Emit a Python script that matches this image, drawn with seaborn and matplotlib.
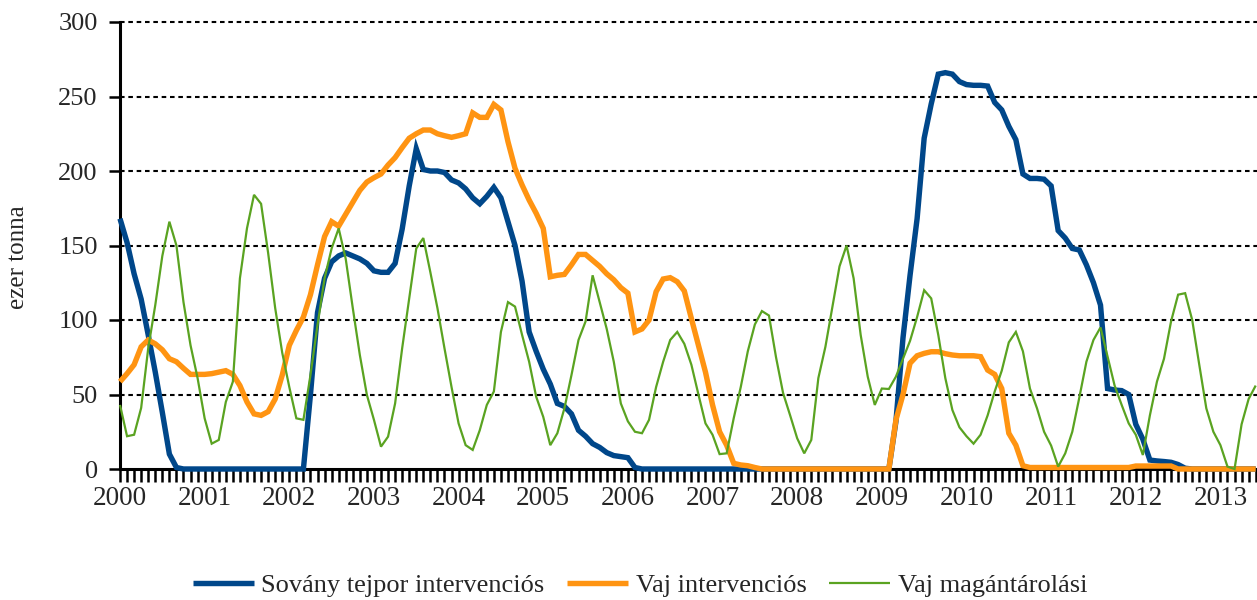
import numpy as np
import pandas as pd
import matplotlib
matplotlib.use("Agg")
import matplotlib.pyplot as plt
import seaborn as sns
from matplotlib.ticker import FixedLocator, MultipleLocator

# ---- data (monthly, Jan 2000 onwards, thousand tonnes) ----
years = list(range(2000, 2014))
series_names = ["Sovány tejpor intervenciós", "Vaj intervenciós", "Vaj magántárolási"]

skim_milk_intervention = (
    [168, 152, 131, 114, 90, 65, 38, 10, 1]
    + [0] * 18
    + [50, 105, 128, 139, 143, 145, 143, 141, 138, 133, 132, 132, 138, 161, 190, 215,
       201, 200, 200, 199, 194, 192, 188, 182, 178, 183, 189, 182, 166, 150, 126, 92,
       79, 67, 57, 44, 42, 37, 26, 22, 17, 14.5, 11, 9, 8.3, 7.6, 1]
    + [0] * 36
    + [32, 88, 130, 168, 222, 245, 265, 266, 265, 260, 258, 257.5, 257.5, 257, 246, 241,
       230, 221, 198, 195, 195, 194.5, 190, 160, 155, 148, 147, 137, 125, 110, 54, 53,
       52.6, 50, 30, 20, 6, 5.4, 5, 4.5, 3, 0.5]
    + [0] * 10
)

butter_intervention = (
    [58.6, 64, 70, 82, 86.6, 84, 80, 74, 72, 67.6, 63.5, 63.5, 63.5, 64, 65, 66, 63.5, 56,
     45, 37, 36, 38.5, 47, 63, 83, 93, 102, 117, 137, 156, 166, 163, 171, 179, 187, 192.6,
     195.5, 198, 204, 209, 215.7, 222, 225, 227.5, 227.5, 225, 223.7, 222.6, 223.7, 225,
     239, 236, 236, 244.7, 241, 219.7, 201.8, 190.6, 180.5, 171.6, 161.5, 129, 130, 130.6,
     137, 144, 144, 140, 136, 131, 127, 121.7, 118, 92, 94, 100, 119, 127.5, 128.4, 125.7,
     119.5, 101, 83, 65, 43, 25, 16, 3.8, 2.7, 2.2, 1]
    + [0] * 19
    + [33, 50, 71, 76, 77.6, 78.7, 78.7, 77.4, 76.5, 76, 76, 76, 75.4, 66.4, 63.5, 54, 24,
       16, 2.2]
    + [1] * 15
    + [2] * 6
    + [0] * 12
)

butter_private_storage = [
    43, 22, 23, 41, 81, 110, 143, 166, 150, 112, 83, 61, 34, 17, 19.5, 45, 58.6, 128,
    161.5, 184, 178, 145, 108, 78, 55, 34, 33, 63, 96.6, 128, 148, 161.5, 141, 108, 76.5,
    49.7, 33, 15, 21.7, 44, 81, 114.5, 148, 155, 132, 108, 81, 55, 30.6, 16, 12.8, 26, 43,
    52, 92, 112, 109, 90, 72, 48.5, 35, 16, 24, 40.7, 63, 86.6, 99, 130, 112, 94, 72, 44,
    32, 25, 24, 33, 55, 72, 86.6, 92, 84, 70, 50, 30.6, 23, 10, 10.5, 34, 55, 79, 97, 106,
    103, 75, 51, 36, 20.6, 10.5, 19.5, 61, 82, 109, 136, 150, 128, 90, 62, 43, 54, 53.7,
    62, 74, 86, 102, 120, 114.5, 90, 61, 39.6, 28, 22, 17, 23, 36, 52, 66, 85, 92, 79, 54,
    40.7, 25, 15.7, 1.6, 10.5, 25, 48, 72, 86.6, 95, 75.4, 56, 43, 30.6, 23, 9.4, 36, 58.6,
    74, 99, 117, 118, 100, 70, 40.7, 25, 16, 1.6, 0, 30, 47, 56,
]

y_ticks = [0, 50, 100, 150, 200, 250, 300]
y_label = "ezer tonna"

n = len(butter_private_storage)
assert len(skim_milk_intervention) == n and len(butter_intervention) == n
month = np.arange(n)

df = pd.DataFrame({
    "month": np.tile(month, 3),
    "value": skim_milk_intervention + butter_intervention + butter_private_storage,
    "series": np.repeat(series_names, n),
})

colors = {series_names[0]: "#00478A", series_names[1]: "#FF9412", series_names[2]: "#5AA321"}
widths = {series_names[0]: 3.9, series_names[1]: 3.9, series_names[2]: 1.6}

# ---- style ----
sns.set_style("white")
plt.rcParams["font.family"] = ["Liberation Serif", "DejaVu Serif"]
plt.rcParams["font.size"] = 19

W, H = 1257, 600
fig = plt.figure(figsize=(W / 100, H / 100), dpi=100)
ax = fig.add_axes([120 / W, (H - 469) / H, 1 - 120 / W, 447 / H])

for name in series_names:
    sub = df[df["series"] == name]
    sns.lineplot(data=sub, x="month", y="value", ax=ax, color=colors[name],
                 linewidth=widths[name], label=name, solid_joinstyle="miter",
                 solid_capstyle="butt", zorder=5, clip_on=False)

ax.set_xlim(0, (W - 120) / 7.054)
ax.set_ylim(0, 300)

# grid
for yv in y_ticks[1:]:
    ax.axhline(yv, color="black", linewidth=1.5, linestyle=(0, (2.2, 1.8)), zorder=1,
               clip_on=False)

ax.set_yticks(y_ticks)
ax.set_yticklabels([str(v) for v in y_ticks])
ax.xaxis.set_major_locator(FixedLocator([12 * (y - 2000) for y in years]))
ax.set_xticklabels([str(y) for y in years])
ax.xaxis.set_minor_locator(MultipleLocator(1))

ax.tick_params(axis="y", which="major", direction="out", length=8, width=1.8,
               color="black", pad=8, labelsize=19, left=True)
ax.tick_params(axis="x", which="both", direction="out", length=9, width=1.8,
               color="black", pad=3, labelsize=19.5, bottom=True)

for side in ["top", "right"]:
    ax.spines[side].set_visible(False)
for side in ["left", "bottom"]:
    ax.spines[side].set_color("black")
    ax.spines[side].set_linewidth(2.2)
    ax.spines[side].set_zorder(4)

ax.set_xlabel("")
ax.set_ylabel("")
fig.text(18 / W, 1 - 257 / H, y_label, rotation=90, ha="center", va="center", fontsize=18)

handles, labels = ax.get_legend_handles_labels()
if ax.legend_:
    ax.legend_.remove()
fig.legend(handles, labels, loc="center", bbox_to_anchor=(640 / W, 1 - 585 / H), ncol=3,
           frameon=False, fontsize=19, handlelength=2.3, columnspacing=0.85,
           handletextpad=0.3)

fig.savefig("out.png", dpi=100)
